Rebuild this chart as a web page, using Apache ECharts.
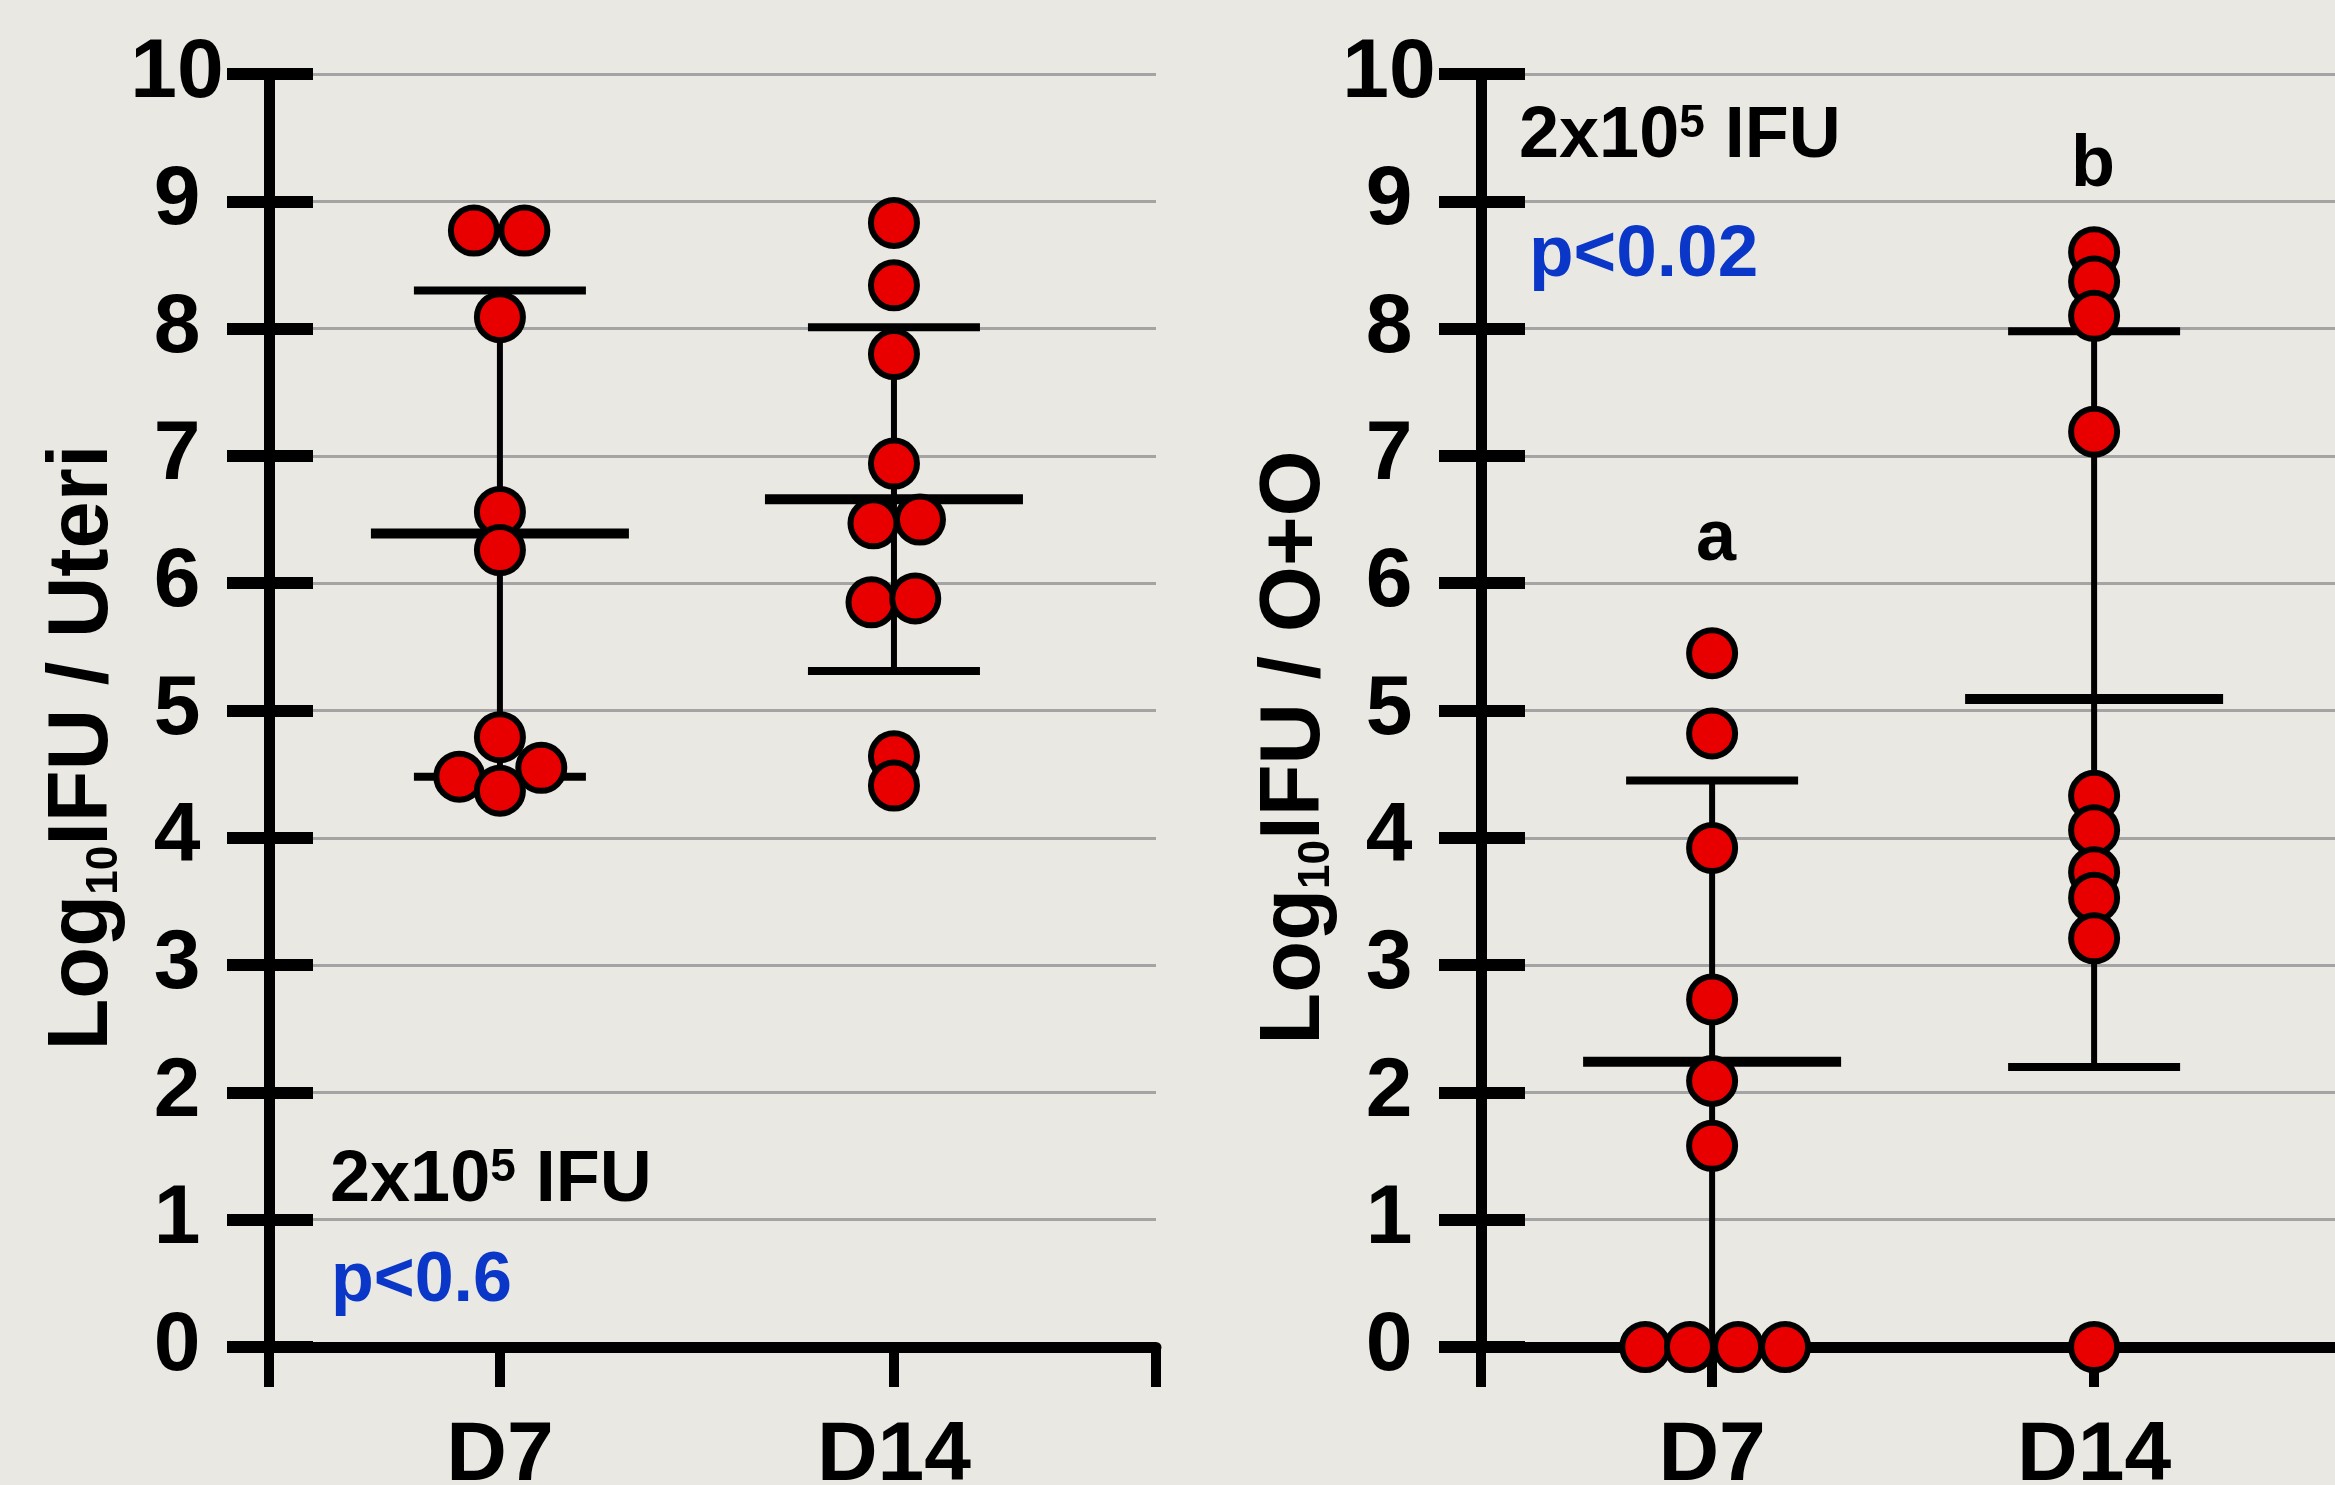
<!DOCTYPE html>
<html>
<head>
<meta charset="utf-8">
<title>Log10 IFU - Uteri / O+O</title>
<script src="https://cdn.jsdelivr.net/npm/echarts@6/dist/echarts.min.js"></script>
<style>
    html, body { margin: 0; padding: 0; background: #e9e8e3; }
    #chart { width: 2335px; height: 1485px; }
</style>
</head>
<body>
<div id="chart"></div>
<script>
    // categories on the x axis (placed at x = 1, 2)
    const xCategories = ['D7', 'D14'];

    // panel 1: Log10 IFU / Uteri
    const uteriD7 = [8.77, 8.77, 8.09, 6.56, 6.26, 4.79, 4.48, 4.55, 4.37];
    const uteriD7Jitter = [-0.066, 0.062, 0, 0, 0, 0, -0.103, 0.105, 0];
    const uteriD14 = [8.83, 8.34, 7.80, 6.94, 6.47, 6.50, 5.85, 5.88, 4.64, 4.41];
    const uteriD14Jitter = [0, 0, 0, 0, -0.052, 0.066, -0.057, 0.054, 0, 0];
    const uteriMean = [6.39, 6.66];
    const uteriSD = [1.91, 1.35];

    // panel 2: Log10 IFU / O+O
    const ooD7 = [5.45, 4.82, 3.92, 2.73, 2.09, 1.58, 0, 0, 0, 0];
    const ooD7Jitter = [0, 0, 0, 0, 0, 0, -0.175, -0.058, 0.068, 0.191];
    const ooD14 = [8.60, 8.37, 8.10, 7.19, 4.33, 4.06, 3.73, 3.53, 3.21, 0];
    const ooD14Jitter = [0, 0, 0, 0, 0, 0, 0, 0, 0, 0];
    const ooMean = [2.24, 5.09];
    const ooSD = [2.21, 2.89];

    const FONT = 'Liberation Sans, Arial, Helvetica, sans-serif';
    const RED = '#e80000';
    const BLUE = '#0a37c8';

    let myChart = echarts.init(document.getElementById('chart'));

    function points(vals, jit, xPos) {
        return vals.map((v, i) => [xPos + jit[i], v]);
    }

    function barData(mean, sd) {
        return mean.map((m, i) => [i + 1, m, sd[i]]);
    }

    // mean line + SD whiskers
    function renderBars(params, api) {
        let x = api.value(0), m = api.value(1), sd = api.value(2);
        let c = api.coord([x, m]);
        let top = api.coord([x, m + sd]);
        let bot = api.coord([x, m - sd]);
        return {
            type: 'group',
            children: [
                {type: 'line', shape: {x1: c[0], y1: top[1], x2: c[0], y2: bot[1]}, style: {stroke: '#000', lineWidth: 6}},
                {type: 'line', shape: {x1: c[0] - 86, y1: top[1], x2: c[0] + 86, y2: top[1]}, style: {stroke: '#000', lineWidth: 8}},
                {type: 'line', shape: {x1: c[0] - 86, y1: bot[1], x2: c[0] + 86, y2: bot[1]}, style: {stroke: '#000', lineWidth: 8}},
                {type: 'line', shape: {x1: c[0] - 129, y1: c[1], x2: c[0] + 129, y2: c[1]}, style: {stroke: '#000', lineWidth: 10}}
            ]
        };
    }

    function xAxisFor(gridIndex, min, max) {
        return {
            type: 'value', gridIndex: gridIndex, min: min, max: max,
            splitLine: {show: false},
            axisLine: {show: true, onZero: false, lineStyle: {color: '#000', width: 11}},
            axisTick: {show: true, inside: false, length: 40, customValues: [min, 1, 2, max],
                lineStyle: {color: '#000', width: 10}},
            axisLabel: {
                customValues: [1, 2],
                formatter: v => xCategories[Math.round(v) - 1],
                color: '#000', fontFamily: FONT, fontWeight: 'bold', fontSize: 84,
                verticalAlign: 'middle', margin: 110
            }
        };
    }

    function yAxisFor(gridIndex, label) {
        return {
            type: 'value', gridIndex: gridIndex, position: 'left', min: 0, max: 10, interval: 1,
            name: '{m|Log}{s|10}{m|IFU / ' + label + '}',
            nameLocation: 'middle', nameRotate: 90, nameGap: 140,
            nameTextStyle: {
                color: '#000', fontFamily: FONT, fontWeight: 'bold', fontSize: 85,
                padding: [0, 74, 0, 0],
                rich: {
                    m: {fontFamily: FONT, fontWeight: 'bold', fontSize: 85, lineHeight: 85, verticalAlign: 'bottom', color: '#000'},
                    s: {fontFamily: FONT, fontWeight: 'bold', fontSize: 44, lineHeight: 17, verticalAlign: 'bottom', color: '#000'}
                }
            },
            axisLine: {show: true, lineStyle: {color: '#000', width: 11}},
            axisTick: {show: true, inside: false, length: 42, lineStyle: {color: '#000', width: 12}},
            axisLabel: {
                color: '#000', fontFamily: FONT, fontWeight: 'bold', fontSize: 84,
                align: 'center', margin: 92
            },
            splitLine: {show: true, lineStyle: {color: '#a4a4a4', width: 3}}
        };
    }

    // second axis on the same line, only to draw the inner half of each tick
    function yInnerFor(gridIndex) {
        return {
            type: 'value', gridIndex: gridIndex, position: 'left', offset: 0, min: 0, max: 10, interval: 1,
            axisLine: {show: true, lineStyle: {color: '#000', width: 11}},
            axisTick: {show: true, inside: true, length: 44, lineStyle: {color: '#000', width: 12}},
            axisLabel: {show: false},
            splitLine: {show: false}
        };
    }

    function textStyle(text, size, color, align) {
        return {
            text: text, fill: color, fontFamily: FONT, fontWeight: 'bold', fontSize: size,
            align: align, textAlign: align, verticalAlign: 'middle', textVerticalAlign: 'middle'
        };
    }

    function doseText(x, y) {
        return {
            type: 'text', x: x, y: y,
            style: {
                text: '{m|2x10}{s|5}{m| IFU}',
                align: 'left', verticalAlign: 'middle',
                rich: {
                    m: {fontFamily: FONT, fontWeight: 'bold', fontSize: 72, lineHeight: 72, verticalAlign: 'bottom', color: '#000'},
                    s: {fontFamily: FONT, fontWeight: 'bold', fontSize: 46, lineHeight: 46, verticalAlign: 'top', color: '#000'}
                }
            }
        };
    }

    let scatterStyle = {
        type: 'scatter', symbol: 'circle', symbolSize: 46, clip: false, z: 5,
        itemStyle: {color: RED, borderColor: '#000', borderWidth: 6, opacity: 1}
    };

    let chartOption = {
        backgroundColor: '#e9e8e3',
        animation: false,
        grid: [
            {left: 269, top: 74, width: 887, height: 1273, outerBoundsMode: 'none', containLabel: false},
            {left: 1481, top: 74, width: 887, height: 1273, outerBoundsMode: 'none', containLabel: false}
        ],
        xAxis: [
            xAxisFor(0, 0.414, 2.665),
            xAxisFor(1, 0.395, 2.717)
        ],
        yAxis: [
            yAxisFor(0, 'Uteri'),
            yInnerFor(0),
            yAxisFor(1, 'O+O'),
            yInnerFor(1)
        ],
        series: [
            {type: 'custom', xAxisIndex: 0, yAxisIndex: 0, clip: false, z: 3, renderItem: renderBars, data: barData(uteriMean, uteriSD)},
            {type: 'custom', xAxisIndex: 1, yAxisIndex: 2, clip: false, z: 3, renderItem: renderBars, data: barData(ooMean, ooSD)},
            Object.assign({}, scatterStyle, {xAxisIndex: 0, yAxisIndex: 0, data: points(uteriD7, uteriD7Jitter, 1)}),
            Object.assign({}, scatterStyle, {xAxisIndex: 0, yAxisIndex: 0, data: points(uteriD14, uteriD14Jitter, 2)}),
            Object.assign({}, scatterStyle, {xAxisIndex: 1, yAxisIndex: 2, data: points(ooD7, ooD7Jitter, 1)}),
            Object.assign({}, scatterStyle, {xAxisIndex: 1, yAxisIndex: 2, data: points(ooD14, ooD14Jitter, 2)})
        ],
        graphic: [
            doseText(330, 1181),
            {type: 'text', x: 331, y: 1282, style: textStyle('p<0.6', 70, BLUE, 'left')},
            doseText(1519, 137),
            {type: 'text', x: 1529, y: 256, style: textStyle('p<0.02', 73, BLUE, 'left')},
            {type: 'text', x: 1716, y: 540, style: textStyle('a', 72, '#000', 'center')},
            {type: 'text', x: 2093, y: 166, style: textStyle('b', 72, '#000', 'center')}
        ]
    };

    myChart.setOption(chartOption);
</script>
</body>
</html>
